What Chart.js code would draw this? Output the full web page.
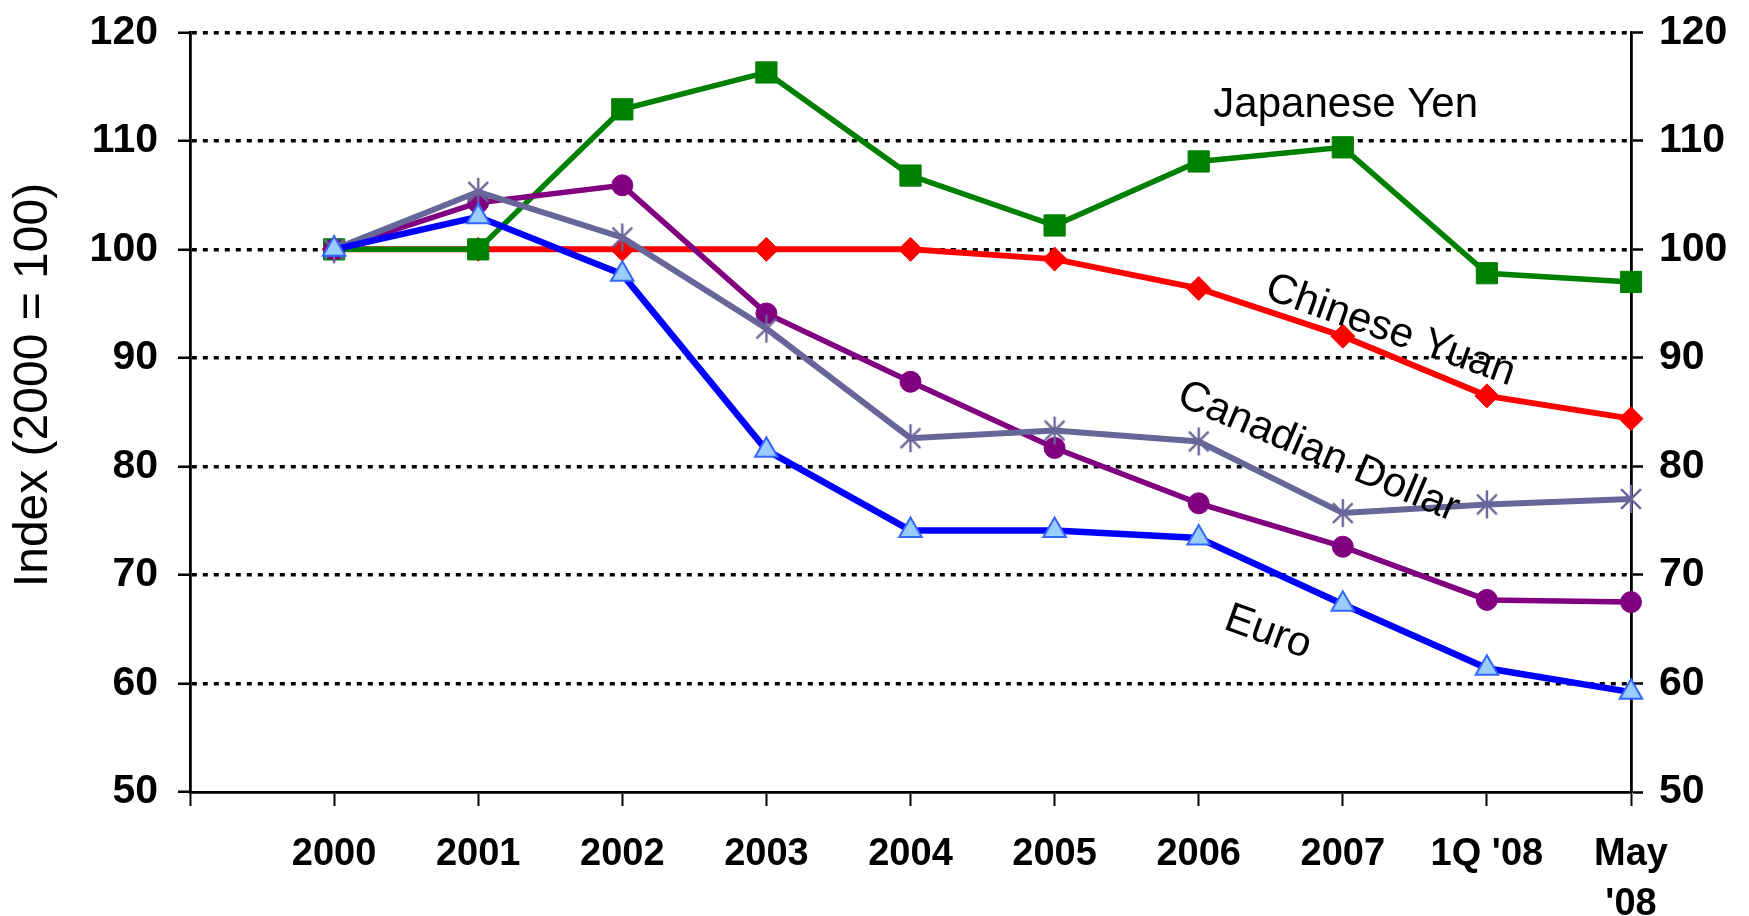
<!DOCTYPE html>
<html><head><meta charset="utf-8">
<script src="https://cdn.jsdelivr.net/npm/chart.js@4.4.1/dist/chart.umd.min.js"></script>
<style>html,body{margin:0;padding:0;background:#fff;overflow:hidden}#wrap{width:1749px;height:916px;position:relative}</style>
</head><body><div id="wrap"><canvas id="c" width="1749" height="916"></canvas></div>
<script>
// ---- data ----
const categories = ['', '2000', '2001', '2002', '2003', '2004', '2005', '2006', '2007', "1Q '08", ['May', "'08"]];
const japaneseYen    = [null, 100, 100, 112.9, 116.3, 106.8, 102.2, 108.1, 109.4, 97.8, 97.0];
const chineseYuan    = [null, 100, 100, 100, 100, 100, 99.1, 96.4, 92.0, 86.5, 84.4];
const canadianDollar = [null, 100, 105.3, 101.1, 92.7, 82.6, 83.3, 82.3, 75.7, 76.5, 77.0];
const purpleSeries   = [null, 100, 104.3, 105.9, 94.1, 87.8, 81.7, 76.6, 72.6, 67.7, 67.5];
const euro           = [null, 100, 103.0, 97.7, 81.5, 74.1, 74.1, 73.4, 67.3, 61.4, 59.2];
const yTicks = [50, 60, 70, 80, 90, 100, 110, 120];
const yAxisTitle = 'Index (2000 = 100)';
// series labels drawn on the plot: text, category position, value, angle (deg)
const annoText  = ['Japanese Yen', 'Chinese Yuan', 'Canadian Dollar', 'Euro'];
const annoX     = [8.02, 8.33, 7.83, 7.48];
const annoY     = [113.3, 92.5, 81.3, 64.7];
const annoAngle = [0, 19.6, 23, 20];

const FONT = '"Liberation Sans", Arial, sans-serif';

// asterisk marker (X plus vertical stroke)
function makeAsterisk(size, color, lw) {
  const c = document.createElement('canvas');
  c.width = size; c.height = size;
  const g = c.getContext('2d');
  g.strokeStyle = color; g.lineWidth = lw; g.lineCap = 'butt';
  const m = size / 2, r = size / 2 - 1, d = r * Math.SQRT1_2;
  g.beginPath();
  g.moveTo(m, m - r); g.lineTo(m, m + r);
  g.moveTo(m - d, m - d); g.lineTo(m + d, m + d);
  g.moveTo(m - d, m + d); g.lineTo(m + d, m - d);
  g.stroke();
  return c;
}
const asteriskImg = makeAsterisk(30, '#666699', 2.4);

const annoPlugin = {
  id: 'anno',
  afterDatasetsDraw(chart) {
    const {ctx, scales: {x, y}} = chart;
    ctx.save();
    ctx.fillStyle = '#000';
    ctx.font = '42px ' + FONT;
    ctx.textAlign = 'center';
    ctx.textBaseline = 'middle';
    annoText.forEach((t, i) => {
      ctx.save();
      ctx.translate(x.getPixelForValue(annoX[i]), y.getPixelForValue(annoY[i]));
      ctx.rotate(annoAngle[i] * Math.PI / 180);
      ctx.fillText(t, 0, 0);
      ctx.restore();
    });
    // y axis title
    ctx.save();
    ctx.translate(34, 385);
    ctx.rotate(-Math.PI / 2);
    ctx.font = '48px ' + FONT;
    ctx.fillText(yAxisTitle, 0, 0);
    ctx.restore();
    ctx.restore();
  }
};

const gridColor = c => (c.tick && c.tick.value === 50) ? 'rgba(0,0,0,0)' : '#000';

new Chart(document.getElementById('c'), {
  type: 'line',
  data: {
    labels: categories,
    datasets: [
      {label: 'Euro', data: euro, borderColor: '#0000FF', borderWidth: 6.5,
       pointStyle: 'triangle', pointRadius: 13, pointBackgroundColor: '#99CCFF', pointBorderColor: '#3366FF', pointBorderWidth: 2},
      {label: 'Canadian Dollar', data: canadianDollar, borderColor: '#666699', borderWidth: 6,
       pointStyle: asteriskImg, pointRadius: 13, pointBackgroundColor: '#666699', pointBorderColor: '#666699'},
      {label: 'Purple', data: purpleSeries, borderColor: '#800080', borderWidth: 5.5,
       pointStyle: 'circle', pointRadius: 10.5, pointBackgroundColor: '#800080', pointBorderColor: '#800080', pointBorderWidth: 1},
      {label: 'Japanese Yen', data: japaneseYen, borderColor: '#008000', borderWidth: 5.5,
       pointStyle: 'rect', pointRadius: 15, pointBackgroundColor: '#008000', pointBorderColor: '#008000', pointBorderWidth: 1},
      {label: 'Chinese Yuan', data: chineseYuan, borderColor: '#FF0000', borderWidth: 6,
       pointStyle: 'rectRot', pointRadius: 12, pointBackgroundColor: '#FF0000', pointBorderColor: '#FF0000', pointBorderWidth: 1}
    ]
  },
  options: {
    responsive: false,
    animation: false,
    events: [],
    layout: {autoPadding: false, padding: {top: 31, left: 0, right: 0, bottom: 0}},
    plugins: {legend: {display: false}, tooltip: {enabled: false}},
    elements: {line: {tension: 0}},
    scales: {
      x: {
        type: 'category',
        offset: false,
        grid: {display: true, drawOnChartArea: false, drawTicks: true, tickLength: 14, tickWidth: 2, tickColor: '#000', offset: false},
        border: {display: true, color: '#000', width: 2.8},
        ticks: {color: '#000', font: {family: FONT, size: 38, weight: 'bold', lineHeight: 1.3}, padding: 24, autoSkip: false, maxRotation: 0, minRotation: 0},
        afterFit(s) { s.height = 124; }
      },
      y: {
        position: 'left', min: 50, max: 120,
        afterBuildTicks(s) { s.ticks = yTicks.map(v => ({value: v})); },
        grid: {color: gridColor, lineWidth: 3.5, drawTicks: true, tickLength: 12, tickWidth: 2.5, tickColor: '#000', tickBorderDash: [1, 0]},
        border: {display: true, color: '#000', width: 2.8, dash: [5, 6]},
        ticks: {color: '#000', font: {family: FONT, size: 41, weight: 'bold', lineHeight: 0.6}, padding: 20},
        afterFit(s) { s.width = 190; }
      },
      y2: {
        position: 'right', min: 50, max: 120,
        afterBuildTicks(s) { s.ticks = yTicks.map(v => ({value: v})); },
        grid: {drawOnChartArea: false, drawTicks: true, tickLength: 12, tickWidth: 2.5, tickColor: '#000', color: '#000'},
        border: {display: true, color: '#000', width: 2.8},
        ticks: {color: '#000', font: {family: FONT, size: 41, weight: 'bold', lineHeight: 0.6}, padding: 16},
        afterFit(s) { s.width = 118; }
      }
    }
  },
  plugins: [annoPlugin]
});
</script></body></html>
